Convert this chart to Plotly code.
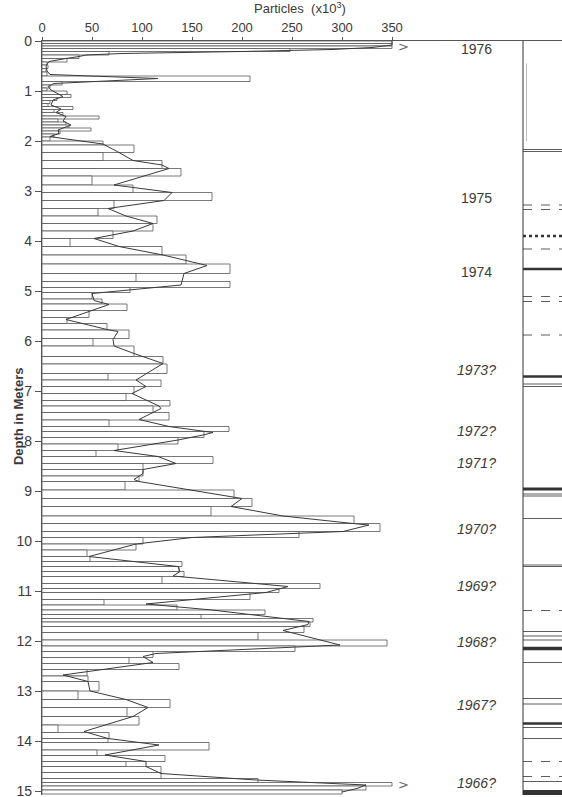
import plotly.graph_objects as go

# ---------------- data ----------------
# bar top edges (m) and particle counts (x10^3); last edge closes the final bar
bar_tops = [0.00, 0.05, 0.10, 0.15, 0.21, 0.28, 0.35, 0.42, 0.48, 0.55, 0.62, 0.70,
            0.81, 0.88, 0.94, 1.00, 1.07, 1.13, 1.19, 1.25, 1.31, 1.37, 1.43, 1.50,
            1.56, 1.62, 1.68, 1.74, 1.80, 1.86, 1.92,
            2.00, 2.08, 2.23, 2.39, 2.55, 2.70, 2.88, 3.03, 3.19, 3.35, 3.50, 3.65,
            3.80, 3.95, 4.11, 4.28, 4.46, 4.65, 4.81, 4.93, 5.03, 5.16, 5.26, 5.39,
            5.53, 5.65, 5.78, 5.95, 6.10, 6.31, 6.46, 6.65, 6.78, 6.91, 7.05, 7.19,
            7.30, 7.43, 7.58, 7.71, 7.81, 7.93, 8.06, 8.19, 8.31, 8.45, 8.57, 8.70,
            8.81, 8.98, 9.15, 9.31, 9.50, 9.65, 9.81, 9.93, 10.06, 10.18, 10.31,
            10.41, 10.51, 10.61, 10.71, 10.85, 10.95, 11.03, 11.17, 11.28, 11.38,
            11.47, 11.55, 11.62, 11.71, 11.83, 11.98, 12.10, 12.21, 12.33, 12.45,
            12.57, 12.70, 12.81, 13.00, 13.17, 13.33, 13.51, 13.68, 13.83, 13.95,
            14.03, 14.18, 14.29, 14.41, 14.51, 14.63, 14.75, 14.83, 14.90, 14.98,
            15.06]
bar_values = [350, 350, 350, 248, 67, 37, 25, 5, 6, 4, 5, 208,
              20, 8, 5, 25, 29, 15, 8, 6, 31, 12, 21, 57,
              16, 24, 27, 49, 18, 12, 8,
              61, 92, 61, 120, 139, 50, 91, 170, 72, 56, 115, 111,
              71, 28, 120, 144, 188, 94, 188, 88, 50, 60, 85, 47,
              25, 65, 87, 51, 92, 121, 125, 66, 119, 92, 84, 128,
              111, 127, 67, 187, 162, 136, 76, 54, 171, 101, 101, 97,
              83, 192, 210, 169, 312, 338, 257, 101, 94, 45, 48,
              140, 137, 142, 120, 278, 237, 208, 62, 135, 223,
              159, 271, 268, 262, 216, 345, 253, 111, 87, 137,
              45, 46, 57, 36, 128, 85, 97, 16, 67, 66,
              167, 55, 123, 84, 119, 119, 216, 350, 324, 300]

# smoothed curve
line_depths = [0.00, 0.08, 0.13, 0.17, 0.21, 0.25, 0.28, 0.31, 0.35, 0.41, 0.50, 0.60,
               0.67, 0.75, 0.85, 0.91, 0.98, 1.07, 1.11, 1.18, 1.28, 1.36, 1.43, 1.51,
               1.60, 1.68, 1.78, 1.85, 1.91, 1.95, 2.06, 2.23, 2.39, 2.48, 2.55, 2.88,
               3.03, 3.19, 3.35, 3.50, 3.65, 3.80, 3.95, 4.11, 4.28, 4.49, 4.65, 4.88,
               4.98, 5.05, 5.19, 5.27, 5.41, 5.57, 5.77, 5.81, 5.97, 6.10, 6.25, 6.45,
               6.78, 6.91, 7.05, 7.30, 7.35, 7.57, 7.71, 7.83, 7.88, 7.98, 8.19, 8.31,
               8.45, 8.57, 8.65, 8.77, 8.81, 9.15, 9.31, 9.50, 9.65, 9.68, 9.81, 9.93,
               10.06, 10.31, 10.51, 10.61, 10.70, 10.91, 11.03, 11.26, 11.38, 11.61,
               11.67, 11.79, 12.08, 12.25, 12.31, 12.43, 12.68, 12.81, 13.00, 13.17,
               13.33, 13.51, 13.81, 13.95, 14.08, 14.28, 14.41, 14.51, 14.65, 14.78,
               14.88, 14.95, 15.02]
line_values = [350, 350, 330, 290, 200, 80, 44, 37, 24, 7, 4, 5,
               8, 116, 12, 6, 9, 17, 21, 11, 9, 19, 14, 24,
               21, 29, 16, 17, 8, 21, 61, 77, 91, 120, 127, 72,
               130, 122, 66, 84, 111, 91, 52, 77, 121, 165, 142, 139,
               88, 50, 52, 67, 47, 24, 65, 76, 71, 72, 92, 121,
               94, 104, 90, 117, 119, 97, 127, 171, 161, 136, 72, 116,
               134, 101, 101, 92, 97, 200, 189, 241, 311, 327, 301, 150,
               94, 47, 136, 138, 131, 246, 224, 104, 170, 267,
               266, 241, 298, 114, 101, 111, 21, 46, 48, 84,
               106, 91, 42, 66, 117, 63, 104, 104, 119, 214,
               324, 315, 300]

x_ticks = [0, 50, 100, 150, 200, 250, 300, 350]
y_ticks = list(range(0, 16))

year_labels = ["1976", "1975", "1974", "1973?", "1972?", "1971?", "1970?",
               "1969?", "1968?", "1967?", "1966?"]
year_depths = [0.15, 3.14, 4.61, 6.58, 7.79, 8.43, 9.76, 10.90, 12.02, 13.28, 14.84]
year_uncertain = [False, False, False, True, True, True, True, True, True, True, True]

offscale_depths = [0.10, 14.86]

# stratigraphic column markers: depth, line width, dash
strip_depths = [2.17, 2.21, 3.28, 3.37, 3.90, 4.16, 4.56, 5.11, 5.21, 5.88, 6.71,
                6.86, 6.91, 8.96, 9.06, 9.10, 9.55, 10.48, 10.51, 11.39, 11.81,
                11.90, 11.98, 12.15, 12.43, 13.15, 13.26, 13.65, 13.73, 13.95,
                14.41, 14.71, 14.81, 15.03]
strip_widths = [0.8, 0.8, 0.8, 0.8, 2.5, 0.8, 2.5, 0.8, 0.8, 0.8, 2.5,
                0.8, 0.8, 3, 0.8, 0.8, 0.8, 0.8, 0.8, 0.8, 0.8,
                0.8, 0.8, 3.5, 0.8, 0.8, 0.8, 2.5, 0.8, 0.8,
                0.8, 0.8, 0.8, 5]
strip_dashes = ["solid", "solid", "dash", "dash", "dot", "dash", "solid", "dash", "dash",
                "dash", "solid", "solid", "solid", "solid", "solid", "solid", "solid",
                "solid", "solid", "dash", "solid", "solid", "solid", "solid", "solid",
                "solid", "solid", "solid", "solid", "solid", "dash", "dash", "solid",
                "solid"]

# ---------------- figure ----------------
ink = "#3a3a3a"
font_family = "Liberation Sans, Arial"
centers = [(bar_tops[i] + bar_tops[i + 1]) / 2 for i in range(len(bar_values))]
thick = [bar_tops[i + 1] - bar_tops[i] for i in range(len(bar_values))]

fig = go.Figure()
fig.add_trace(go.Bar(
    orientation="h", y=centers, x=bar_values, width=thick,
    marker=dict(color="white", line=dict(color="#555555", width=0.8)),
    hoverinfo="skip", showlegend=False))
fig.add_trace(go.Scatter(
    x=line_values, y=line_depths, mode="lines",
    line=dict(color=ink, width=1), hoverinfo="skip", showlegend=False))

XMAX = 520
STRIP_X = 481
Y_BOTTOM = 15.08

shapes = [dict(type="line", xref="x", yref="y", x0=STRIP_X, x1=STRIP_X,
               y0=0, y1=Y_BOTTOM, line=dict(color="#555555", width=1.2)),
          dict(type="line", xref="x", yref="y", x0=STRIP_X + 3.5, x1=STRIP_X + 3.5,
               y0=0.45, y1=2.0, line=dict(color="#bbbbbb", width=1))]
for d, w, ds in zip(strip_depths, strip_widths, strip_dashes):
    shapes.append(dict(type="line", xref="x", yref="y", x0=STRIP_X, x1=XMAX,
                       y0=d, y1=d, line=dict(color="#333333", width=w, dash=ds)))

ann = []
for lab, d, unc in zip(year_labels, year_depths, year_uncertain):
    txt = f"<i>{lab}</i>" if unc else lab
    ann.append(dict(x=434, y=d, xref="x", yref="y", text=txt, showarrow=False,
                    xanchor="center", yanchor="middle",
                    font=dict(family=font_family, size=14, color=ink)))
for d in offscale_depths:
    ann.append(dict(x=361, y=d, xref="x", yref="y", text="&gt;", showarrow=False,
                    xanchor="center", yanchor="middle",
                    font=dict(family="DejaVu Sans", size=13, color="#666666")))
ann.append(dict(x=258, y=1.044, xref="x", yref="paper",
                text="Particles  (x10<sup>3</sup>)",
                xanchor="center", yanchor="middle", showarrow=False,
                font=dict(family=font_family, size=13, color=ink)))
ann.append(dict(x=-0.046, y=7.5, xref="paper", yref="y", text="<b>Depth in Meters</b>",
                textangle=-90, showarrow=False, xanchor="center", yanchor="middle",
                font=dict(family=font_family, size=13, color=ink)))

fig.update_layout(
    width=562, height=797,
    margin=dict(l=42, r=0, t=41, b=2, autoexpand=False),
    plot_bgcolor="white", paper_bgcolor="white",
    shapes=shapes, annotations=ann,
    bargap=0,
    xaxis=dict(side="top", range=[0, XMAX], tickvals=x_ticks,
               showline=True, linecolor="#555555", linewidth=1.2,
               ticks="outside", ticklen=3, tickcolor="#555555",
               showgrid=False, zeroline=False,
               tickfont=dict(family=font_family, size=13, color=ink)),
    yaxis=dict(range=[Y_BOTTOM, 0], tickvals=y_ticks,
               showline=True, linecolor="#555555", linewidth=1.2,
               ticks="outside", ticklen=6, tickcolor="#555555",
               ticklabeloverflow="allow",
               showgrid=False, zeroline=False,
               tickfont=dict(family=font_family, size=14, color=ink)),
)

fig.write_html("out.html",
               config={"displayModeBar": False, "staticPlot": True},
               post_script="document.body.style.margin='0';document.body.style.padding='0';")
